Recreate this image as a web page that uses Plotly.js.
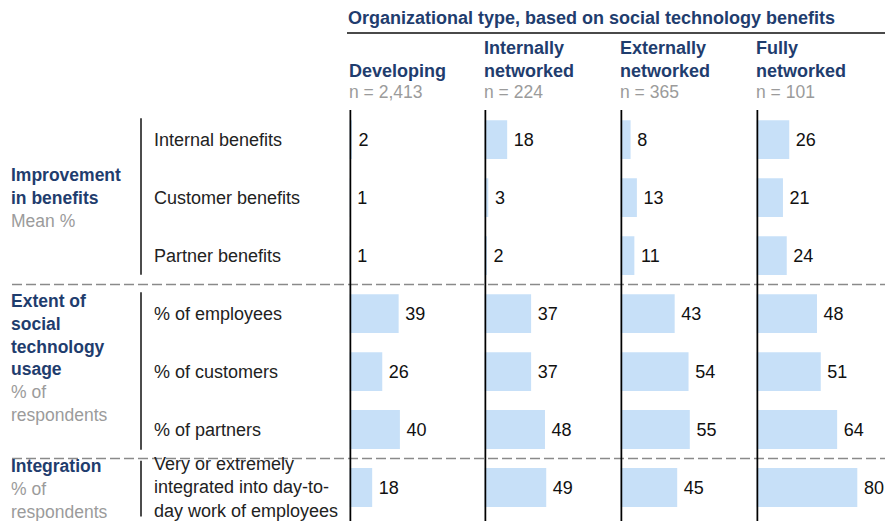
<!DOCTYPE html>
<html>
<head>
<meta charset="utf-8">
<script src="https://cdn.plot.ly/plotly-3.0.1.min.js"></script>
<style>html,body{margin:0;padding:0;background:#fff;}#chart{width:885px;height:521px;}</style>
</head>
<body>
<div id="chart"></div>
<script>
// ---- Data ----
const headerTitle = "Organizational type, based on social technology benefits";
const columnNames = ["Developing", "Internally<br>networked", "Externally<br>networked", "Fully<br>networked"];
const sampleSizes = ["n = 2,413", "n = 224", "n = 365", "n = 101"];
const rowLabels = [
  "Internal benefits",
  "Customer benefits",
  "Partner benefits",
  "% of employees",
  "% of customers",
  "% of partners",
  "Very or extremely<br>integrated into day-to-<br>day work of employees"
];
const developing = [2, 1, 1, 39, 26, 40, 18];
const internallyNetworked = [18, 3, 2, 37, 37, 48, 49];
const externallyNetworked = [8, 13, 11, 43, 54, 55, 45];
const fullyNetworked = [26, 21, 24, 48, 51, 64, 80];
const groupTitles = [["Improvement", "in benefits"], ["Extent of", "social", "technology", "usage"], ["Integration"]];
const groupUnits = [["Mean %"], ["% of", "respondents"], ["% of", "respondents"]];

// ---- Layout helpers ----
const W = 885, H = 521;
const px = x => x / W;
const py = y => 1 - y / H;
const NAVY = "#1f3d6e", GRAY = "#9b9b9b", BAR = "#c7e0f8";
const FONT = "Liberation Sans, Arial, sans-serif";
const pxPerUnit = 1.26;
const axisLeft = [349.5, 484.5, 620.5, 756.5];
const colWidth = 125;
const series = [developing, internallyNetworked, externallyNetworked, fullyNetworked];

const traces = series.map((vals, i) => ({
  type: "bar",
  orientation: "h",
  x: vals,
  y: rowLabels,
  xaxis: i === 0 ? "x" : "x" + (i + 1),
  yaxis: "y",
  marker: {color: BAR, line: {width: 0}},
  text: vals.map(v => "\u2009" + v),
  textposition: "outside",
  textfont: {family: FONT, size: 18, color: "#111"},
  constraintext: "none",
  cliponaxis: false,
  hoverinfo: "skip"
}));

const layout = {
  width: W, height: H,
  margin: {l: 0, r: 0, t: 0, b: 0},
  paper_bgcolor: "#fff", plot_bgcolor: "rgba(0,0,0,0)",
  showlegend: false,
  barmode: "overlay",
  bargap: 0.33,
  font: {family: FONT, size: 18, color: "#222"},
  yaxis: {
    type: "category", visible: false,
    domain: [(H - 516.5) / H, (H - 110.7) / H],
    range: [6.5, -0.5], fixedrange: true
  },
  annotations: [],
  shapes: []
};

axisLeft.forEach((a, i) => {
  const key = i === 0 ? "xaxis" : "xaxis" + (i + 1);
  layout[key] = {
    visible: false, anchor: "y",
    domain: [px(a), px(a + colWidth)],
    range: [0, colWidth / pxPerUnit], fixedrange: true
  };
  const xref = i === 0 ? "x" : "x" + (i + 1);
  // thick vertical axis line at zero
  layout.shapes.push({type: "line", xref: xref, yref: "paper", x0: 0, x1: 0,
    y0: 0, y1: py(110), line: {color: "#000", width: 3.5}, layer: "above"});
  // column names
  const nLines = columnNames[i].split("<br>").length;
  layout.annotations.push({xref: "paper", yref: "paper", x: px(a - 3), y: py(71 - (nLines - 1) * 11.5),
    xanchor: "left", yanchor: "middle", align: "left", showarrow: false,
    text: "<b>" + columnNames[i] + "</b>", font: {family: FONT, size: 18, color: NAVY}});
  layout.annotations.push({xref: "paper", yref: "paper", x: px(a - 3), y: py(92),
    xanchor: "left", yanchor: "middle", align: "left", showarrow: false,
    text: sampleSizes[i], font: {family: FONT, size: 17.5, color: GRAY}});
});

// header
layout.annotations.push({xref: "paper", yref: "paper", x: px(346), y: py(18),
  xanchor: "left", yanchor: "middle", showarrow: false,
  text: "<b>" + headerTitle + "</b>", font: {family: FONT, size: 18, color: NAVY}});
layout.shapes.push({type: "line", xref: "paper", yref: "paper", x0: px(347), x1: 1,
  y0: py(33), y1: py(33), line: {color: "#4a4a4a", width: 2}});

// row labels
rowLabels.forEach(r => {
  layout.annotations.push({xref: "paper", yref: "y", x: px(152), y: r,
    xanchor: "left", yanchor: "middle", align: "left", showarrow: false,
    text: r, font: {family: FONT, size: 18, color: "#222"}});
});

// group labels
const groupCenters = [198, 357.5, 489];
groupTitles.forEach((g, i) => {
  const txt = g.map(s => "<b>" + s + "</b>").concat(groupUnits[i].map(s => "<span style='color:" + GRAY + "'>" + s + "</span>")).join("<br>");
  layout.annotations.push({xref: "paper", yref: "paper", x: px(9), y: py(groupCenters[i]),
    xanchor: "left", yanchor: "middle", align: "left", showarrow: false,
    text: txt, font: {family: FONT, size: 17.5, color: NAVY}});
});

// thin group bracket lines
[[-0.37, 2.33], [2.63, 5.35], [5.54, 6.55]].forEach(([a, b]) => {
  layout.shapes.push({type: "line", xref: "paper", yref: "y", x0: px(141), x1: px(141),
    y0: a, y1: b, line: {color: "#111", width: 1.5}});
});

// dashed separators
[2.5, 5.5].forEach(v => {
  layout.shapes.push({type: "line", xref: "paper", yref: "y", x0: px(12), x1: 1,
    y0: v, y1: v, line: {color: "#8a8a8a", width: 1.5, dash: "10px,4px"}, layer: "below"});
});

Plotly.newPlot("chart", traces, layout, {staticPlot: true, displayModeBar: false});
</script>
</body>
</html>
